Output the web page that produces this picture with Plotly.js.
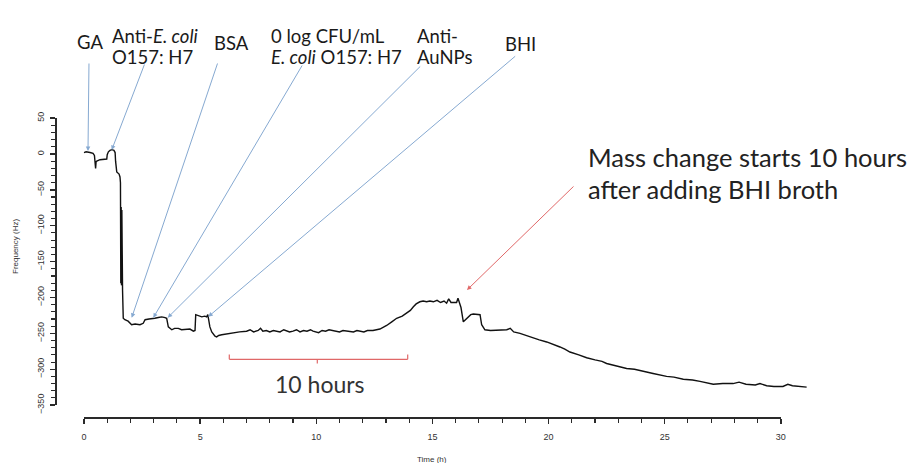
<!DOCTYPE html>
<html>
<head>
<meta charset="utf-8">
<script src="https://cdn.plot.ly/plotly-3.0.1.min.js"></script>
<style>html,body{margin:0;padding:0;background:#fff;}#chart{width:912px;height:463px;}</style>
</head>
<body>
<div id="chart"></div>
<script>
// ---- data (time in hours, frequency in Hz) ----
const timeH = [
  0, 0.09, 0.26, 0.39, 0.45, 0.47, 0.50, 0.52, 0.55, 0.69, 0.85, 0.98, 1.00, 1.05, 1.12, 1.20, 1.29, 1.34, 1.36, 1.41, 1.51, 1.55, 1.57,
  1.58, 1.585, 1.59, 1.595, 1.60, 1.605, 1.61, 1.615, 1.62, 1.625, 1.63, 1.635, 1.64, 1.645, 1.65, 1.655, 1.66,
  1.69, 1.76, 1.90, 2.05, 2.20, 2.41, 2.55, 2.63, 2.80, 2.91, 3.05, 3.20, 3.35, 3.49, 3.56,
  3.63, 3.78, 3.90, 4.06, 4.20, 4.35, 4.50, 4.56, 4.71, 4.78,
  4.81, 4.95, 5.07, 5.20, 5.28, 5.33, 5.35, 5.42, 5.50, 5.64, 5.71, 5.80, 5.93, 6.10, 6.29, 6.50, 6.70,
  7.00, 7.15, 7.30, 7.50, 7.60, 7.70, 7.85, 8.00, 8.15, 8.30, 8.44, 8.60, 8.70, 8.85, 9.00, 9.15, 9.30, 9.45, 9.60, 9.75, 9.86, 10.00, 10.10, 10.25, 10.40, 10.55, 10.70, 10.85, 11.00, 11.15, 11.31, 11.45, 11.60, 11.75, 11.90, 12.05, 12.20, 12.44,
  12.74, 13.03, 13.25, 13.46, 13.70, 13.89, 14.05, 14.18, 14.30, 14.46, 14.60, 14.75, 14.89, 15.04, 15.20, 15.35, 15.50, 15.61, 15.70, 15.80, 16.04, 16.10, 16.19, 16.23,
  16.33, 16.40, 16.54, 16.65, 16.76, 16.90, 17.05, 17.12, 17.26,
  17.50, 17.77, 18.00, 18.20, 18.35, 18.50, 18.77, 19.05, 19.20, 19.34, 19.60, 19.92, 20.20, 20.49, 20.70, 20.92, 21.30, 21.64, 22.00, 22.30, 22.50, 22.90, 23.36, 23.70, 23.93,
  24.20, 24.50, 25.08, 25.40, 25.80, 26.20, 26.52, 27.09, 27.50, 27.94, 28.20, 28.50, 28.90, 29.10, 29.39, 29.70, 30.09, 30.30, 30.50, 30.80, 31.11
];
const freqHz = [
  2, 3, 2, 1, -2, -10, -20, -11, -10, -8, -8, -7, -1, 3, 5, 6, 5, 2, -10, -25, -28, -32, -40,
  -72, -180, -75, -183, -74, -182, -76, -183, -75, -182, -78, -184, -80, -183, -90, -185, -190,
  -229, -231, -233, -238, -237, -238, -236, -231, -230, -230, -229, -228, -227, -228, -229,
  -241, -245, -243, -243, -245, -245, -244, -244, -247, -246,
  -224, -226, -227, -226, -227, -224, -229, -241, -248, -254, -255, -253, -252, -251, -250, -249, -248,
  -247, -245, -248, -246, -243, -247, -246, -248, -246, -247, -248, -245, -246, -248, -247, -245, -248, -246, -247, -245, -247, -248, -249, -246, -247, -245, -246, -248, -248, -246, -247, -248, -248, -246, -247, -248, -246, -246,
  -244, -239, -234, -229, -226, -222, -218, -213, -209, -206, -205, -206, -205, -206, -204, -207, -205, -208, -202, -207, -207, -201, -210, -214,
  -234, -232, -227, -224, -223, -224, -224, -238, -245,
  -246, -246, -245, -245, -243, -248, -250, -253, -255, -257, -259, -262, -265, -269, -272, -276, -280, -284, -287, -289, -292, -295, -299, -300, -302,
  -304, -306, -310, -311, -314, -315, -317, -321, -320, -320, -318, -321, -322, -320, -323, -324, -324, -321, -323, -324, -325
];
const xTickRange = [0, 30];      // labelled time span (h)
const yTickRange = [-350, 50];   // labelled frequency span (Hz)
const xTickStep = 5, yTickStep = 50;
const eventLabels = ['GA', 'Anti-<i>E. coli</i>', 'O157: H7', 'BSA', '0 log CFU/mL', '<i>E. coli</i> O157: H7', 'Anti-', 'AuNPs', 'BHI'];
const noteLines = ['Mass change starts 10 hours', 'after adding BHI broth'];
const spanLabel = '10 hours';
const axisTitles = {x: 'Time (h)', y: 'Frequency (Hz)'};

// ---- layout geometry ----
const W = 912, H = 463;
const M = {l: 55, r: 74, t: 107, b: 46};
const xRange = [-1.248, 32.46];
const yRange = [-366.6, 65.5];
const plotW = W - M.l - M.r, plotH = H - M.t - M.b;
// page pixel -> data / paper units (annotation placement only)
const dx = p => xRange[0] + (p - M.l) / plotW * (xRange[1] - xRange[0]);
const dy = p => yRange[1] - (p - M.t) / plotH * (yRange[1] - yRange[0]);
const pyP = p => (H - M.b - p) / plotH;
const pxP = p => (p - M.l) / plotW;
// data -> paper
const xP = v => (v - xRange[0]) / (xRange[1] - xRange[0]);
const yP = v => (v - yRange[0]) / (yRange[1] - yRange[0]);

const axisColor = '#2a2a2a';
const tickFont = {family: 'Liberation Sans, Arial, sans-serif', size: 9, color: '#333'};
const labelFont = {family: 'Lato, sans-serif', size: 18.5, color: '#1a1a1a'};
const blue = '#86a9d1', red = '#e06868';

const trace = {
  x: timeH, y: freqHz, type: 'scatter', mode: 'lines',
  line: {color: '#111', width: 1.4}, hoverinfo: 'skip'
};
// empty carrier so the R-style display axes (x2/y2) get drawn
const axisCarrier = {x: [], y: [], type: 'scatter', mode: 'lines', xaxis: 'x2', yaxis: 'y2', hoverinfo: 'skip', showlegend: false};

function label(text, xp, yp, anchor, font) {
  return {text: text, x: pxP(xp), y: pyP(yp), xref: 'paper', yref: 'paper', showarrow: false,
    xanchor: anchor || 'center', yanchor: 'middle', font: font || labelFont};
}
function arrow(tipX, tipY, tailX, tailY, color) {
  return {text: '', x: dx(tipX), y: dy(tipY), ax: dx(tailX), ay: dy(tailY),
    xref: 'x', yref: 'y', axref: 'x', ayref: 'y', showarrow: true,
    arrowhead: 2, arrowsize: 0.9, arrowwidth: 1, arrowcolor: color, standoff: 0, startstandoff: 0};
}
const noteFont = {family: 'Lato, sans-serif', size: 25.5, color: '#222'};
const spanFont = {family: 'Lato, sans-serif', size: 23, color: '#333'};
const titleFont = {family: 'Liberation Sans, Arial, sans-serif', size: 8, color: '#333'};

const annotations = [
  label(eventLabels[0], 89.5, 42),
  label(eventLabels[1], 110, 36, 'left'),
  label(eventLabels[2], 110, 57, 'left'),
  label(eventLabels[3], 231, 43),
  label(eventLabels[4], 269, 36, 'left'),
  label(eventLabels[5], 269, 57, 'left'),
  label(eventLabels[6], 415, 36, 'left'),
  label(eventLabels[7], 415, 57, 'left'),
  label(eventLabels[8], 520, 44),
  label(noteLines[0], 586, 157, 'left', noteFont),
  label(noteLines[1], 586, 189, 'left', noteFont),
  label(spanLabel, 320, 384, 'center', spanFont),
  arrow(88, 151, 89, 62, blue),
  arrow(111.7, 150, 145, 63, blue),
  arrow(131.7, 317.7, 218, 62, blue),
  arrow(153.3, 317.7, 303, 64, blue),
  arrow(167.7, 317.7, 421.7, 65, blue),
  arrow(208.3, 316.7, 516.7, 55, blue),
  arrow(467, 290, 575, 185, red),
  label(axisTitles.x, 432, 459, 'center', titleFont),
  Object.assign(label(axisTitles.y, 15, 247, 'center', titleFont), {textangle: -90})
];

const bY = dy(359.3), bTop = dy(354.5), bMid = dy(363.5);
const bL = dx(229.3), bR = dx(407.7), bC = dx(317.3);
const shapes = [
  {type: 'line', xref: 'x', yref: 'y', x0: bL, x1: bR, y0: bY, y1: bY, line: {color: red, width: 1.2}},
  {type: 'line', xref: 'x', yref: 'y', x0: bL, x1: bL, y0: bY, y1: bTop, line: {color: red, width: 1.2}},
  {type: 'line', xref: 'x', yref: 'y', x0: bR, x1: bR, y0: bY, y1: bTop, line: {color: red, width: 1.2}},
  {type: 'line', xref: 'x', yref: 'y', x0: bC, x1: bC, y0: bY, y1: bMid, line: {color: red, width: 1.2}}
];

const hidden = {showgrid: false, zeroline: false, showline: false, showticklabels: false, ticks: ''};
const layout = {
  width: W, height: H, margin: M, showlegend: false,
  paper_bgcolor: '#fff', plot_bgcolor: 'rgba(0,0,0,0)',
  xaxis: Object.assign({range: xRange, domain: [0, 1]}, hidden),
  yaxis: Object.assign({range: yRange, domain: [0, 1]}, hidden),
  // R-style display axes spanning only the labelled range
  xaxis2: {
    range: xTickRange, domain: [xP(xTickRange[0]), xP(xTickRange[1])], anchor: 'free', position: 0,
    showgrid: false, zeroline: false, showline: true, linecolor: axisColor, linewidth: 1.5,
    tickmode: 'linear', tick0: 0, dtick: xTickStep,
    ticks: 'outside', ticklen: 5, tickwidth: 1.4, tickcolor: axisColor, tickfont: tickFont,
    ticklabelstandoff: 6,
    minor: {tick0: 0, dtick: 1, ticks: 'outside', ticklen: 4, tickwidth: 1.1, tickcolor: axisColor, showgrid: false}
  },
  yaxis2: {
    range: yTickRange, domain: [yP(yTickRange[0]), yP(yTickRange[1])], anchor: 'free', position: 0,
    showgrid: false, zeroline: false, showline: true, linecolor: axisColor, linewidth: 1.5,
    tickmode: 'linear', tick0: 0, dtick: yTickStep, tickangle: -90,
    ticks: 'outside', ticklen: 5, tickwidth: 1.4, tickcolor: axisColor, tickfont: tickFont,
    ticklabelstandoff: 2,
    minor: {tick0: 0, dtick: 10, ticks: 'outside', ticklen: 4, tickwidth: 1.1, tickcolor: axisColor, showgrid: false}
  },
  annotations: annotations,
  shapes: shapes
};

Plotly.newPlot('chart', [trace, axisCarrier], layout, {staticPlot: true, displayModeBar: false});
</script>
</body>
</html>
